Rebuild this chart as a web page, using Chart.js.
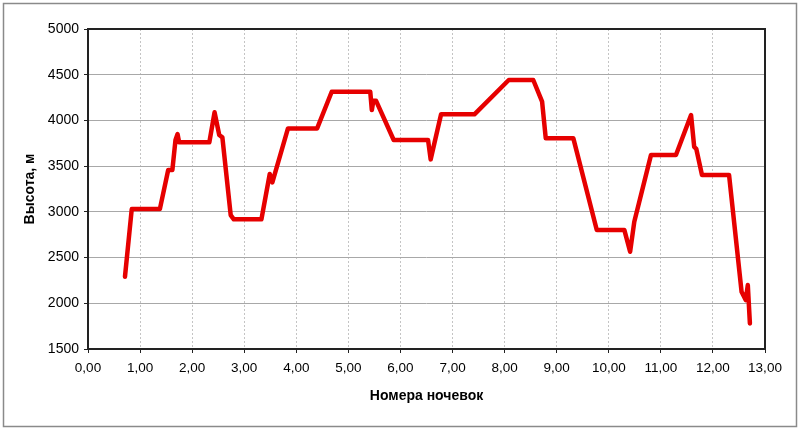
<!DOCTYPE html>
<html>
<head>
<meta charset="utf-8">
<script src="https://cdn.jsdelivr.net/npm/chart.js@4.4.0/dist/chart.umd.min.js"></script>
<style>
  html, body { margin: 0; padding: 0; background: #fff; }
  #wrap { width: 800px; height: 429px; position: relative; }
</style>
</head>
<body>
<div id="wrap"><canvas id="chart" width="800" height="429"></canvas></div>
<script>
// ----- data -----
let nights = [0.71, 0.84, 1.38, 1.54, 1.62, 1.68, 1.72, 1.75, 2.33, 2.43, 2.52, 2.58, 2.74, 2.80, 3.33,
  3.49, 3.54, 3.84, 4.40, 4.68, 5.42, 5.45, 5.48, 5.53, 5.87, 6.53, 6.58, 6.78, 7.42, 8.08, 8.55,
  8.72, 8.79, 9.32, 9.77, 10.30, 10.41, 10.49, 10.81, 11.29, 11.58, 11.64, 11.68, 11.79, 12.31,
  12.55, 12.63, 12.67, 12.71]
let heights = [2290, 3030, 3030, 3457, 3457, 3786, 3851, 3760, 3760, 4089, 3840, 3815, 2965, 2918, 2918,
  3414, 3323, 3913, 3913, 4314, 4314, 4114, 4216, 4216, 3786, 3786, 3574, 4067, 4067, 4442, 4442,
  4205, 3804, 3804, 2801, 2801, 2564, 2892, 3621, 3621, 4059, 3712, 3690, 3403, 3403,
  2126, 2035, 2199, 1780]

let xMin = 0, xMax = 13, xStep = 1
let yMin = 1500, yMax = 5000, yStep = 500
let xTitle = 'Номера ночевок'
let yTitle = 'Высота, м'

let points = nights.map((x, i) => ({x: x, y: heights[i]}))

let font = 'Liberation Sans, Arial, sans-serif'

// frame round the image + dark box round the plot area
let frames = {
  id: 'frames',
  beforeDraw(chart) {
    let ctx = chart.ctx
    ctx.save()
    ctx.fillStyle = '#fff'
    ctx.fillRect(0, 0, chart.width, chart.height)
    ctx.strokeStyle = '#8a8a8a'
    ctx.lineWidth = 1.5
    ctx.strokeRect(3.5, 3.5, 793, 423)
    ctx.restore()
  },
  afterDraw(chart) {
    let a = chart.chartArea
    let ctx = chart.ctx
    ctx.save()
    ctx.strokeStyle = '#222'
    ctx.lineWidth = 2
    ctx.strokeRect(a.left, a.top, a.right - a.left, a.bottom - a.top)
    ctx.restore()
  }
}

new Chart(document.getElementById('chart'), {
  type: 'line',
  data: {
    datasets: [{
      data: points,
      borderColor: 'rgb(230, 0, 0)',
      borderWidth: 4.5,
      borderJoinStyle: 'round',
      borderCapStyle: 'round',
      pointRadius: 0,
      tension: 0,
      fill: false
    }]
  },
  options: {
    responsive: false,
    animation: false,
    layout: {padding: {left: 0, top: 29, right: 35, bottom: 0}},
    plugins: {legend: {display: false}, tooltip: {enabled: false}},
    scales: {
      x: {
        type: 'linear',
        min: xMin, max: xMax,
        afterFit(scale) { scale.height = 80 },
        ticks: {
          stepSize: xStep,
          padding: 7,
          color: '#000',
          font: {family: font, size: 13.5},
          maxRotation: 0,
          callback: v => v.toFixed(2).replace('.', ',')
        },
        grid: {
          color: '#c4c4c4',
          tickColor: '#222',
          tickLength: 4,
          tickBorderDash: []
        },
        border: {display: false, dash: [2, 2]},
        title: {
          display: true,
          text: xTitle,
          color: '#000',
          font: {family: font, size: 14, weight: 'bold'},
          padding: {top: 0, bottom: 24}
        }
      },
      y: {
        min: yMin, max: yMax,
        afterFit(scale) { scale.width = 88 },
        ticks: {
          stepSize: yStep,
          padding: 5,
          color: '#000',
          font: {family: font, size: 14},
          callback: v => String(v)
        },
        grid: {
          color: '#a8a8a8',
          tickColor: '#222',
          tickLength: 4
        },
        border: {display: false},
        title: {
          display: true,
          text: yTitle,
          color: '#000',
          font: {family: font, size: 14, weight: 'bold'},
          padding: {top: 22, bottom: 0}
        }
      }
    }
  },
  plugins: [frames]
})
</script>
</body>
</html>
